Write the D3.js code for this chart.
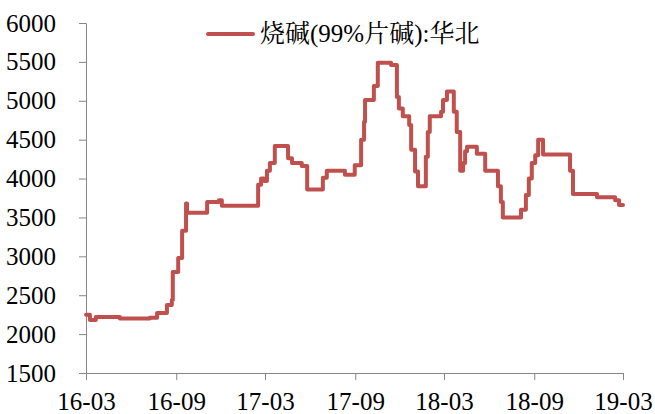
<!DOCTYPE html>
<html lang="zh">
<head>
<meta charset="utf-8">
<title>烧碱(99%片碱):华北</title>
<script src="https://d3js.org/d3.v7.min.js"></script>
<style>
	body { margin: 0; background: #fff; }
</style>
</head>
<body>
<div id="chart"></div>
<script>
	// series: date the price starts, price (yuan/t)
	var dates = ["2016-03-01","2016-03-09","2016-03-21","2016-05-09","2016-07-09","2016-07-24","2016-08-13","2016-08-23","2016-08-25","2016-09-05",
		"2016-09-13","2016-09-21","2016-09-23","2016-11-03","2016-11-27","2016-12-03","2017-02-15","2017-02-21","2017-02-27","2017-03-05",
		"2017-03-11","2017-03-21","2017-04-17","2017-04-25","2017-05-15","2017-05-26","2017-06-27","2017-07-05","2017-08-11","2017-08-31",
		"2017-09-13","2017-09-19","2017-09-21","2017-10-09","2017-10-17","2017-11-13","2017-11-25","2017-11-29","2017-12-07","2017-12-20",
		"2017-12-24","2018-01-01","2018-01-07","2018-01-23","2018-01-27","2018-01-31","2018-02-23","2018-02-27","2018-03-07","2018-03-21",
		"2018-03-27","2018-04-03","2018-04-09","2018-04-13","2018-04-17","2018-05-07","2018-05-24","2018-06-19","2018-06-25","2018-06-29",
		"2018-08-05","2018-08-15","2018-08-21","2018-08-27","2018-09-03","2018-09-09","2018-09-19","2018-11-13","2018-11-19","2019-01-07",
		"2019-02-13","2019-02-21","2019-03-01"];
	var prices = [2250,2180,2220,2200,2210,2270,2375,2440,2800,2980,
		3330,3680,3560,3700,3720,3650,3920,4000,3970,4100,
		4200,4420,4260,4200,4160,3860,4010,4100,4050,4170,
		4500,4730,5010,5190,5490,5460,5050,4900,4800,4690,
		4370,4090,3900,4280,4600,4800,4860,5010,5120,4860,
		4600,4100,4200,4350,4410,4320,4100,3900,3700,3500,
		3600,3790,4000,4200,4300,4500,4310,4100,3800,3760,
		3720,3660,3660];
	var xTicks = ["16-03","16-09","17-03","17-09","18-03","18-09","19-03"];
	var yTicks = [1500,2000,2500,3000,3500,4000,4500,5000,5500,6000];
	var seriesName = "烧碱(99%片碱):华北";

	var W = 655, H = 414;
	var margin = {top: 23, right: 32, bottom: 41, left: 86};

	var parseDay = d3.timeParse("%Y-%m-%d"),
		parseTick = d3.timeParse("%y-%m");

	var data = dates.map(function(d, i) { return {date: parseDay(d), value: prices[i]}; });

	var svg = d3.select("#chart").append("svg")
		.attr("width", W)
		.attr("height", H);

	var x = d3.scaleTime()
		.domain([parseTick(xTicks[0]), parseTick(xTicks[xTicks.length - 1])])
		.range([margin.left, W - margin.right]);
	var y = d3.scaleLinear()
		.domain([1500, 6000])
		.range([H - margin.bottom, margin.top]);

	var xAxis = d3.axisBottom(x)
		.tickValues(xTicks.map(parseTick))
		.tickFormat(d3.timeFormat("%y-%m"))
		.tickSizeOuter(0)
		.tickSize(7)
		.tickPadding(12);
	var yAxis = d3.axisLeft(y)
		.tickValues(yTicks)
		.tickFormat(d3.format("d"))
		.tickSizeOuter(0)
		.tickSize(7)
		.tickPadding(23);

	var gx = svg.append("g")
		.attr("transform", "translate(0," + y(1500) + ")")
		.call(xAxis);
	var gy = svg.append("g")
		.attr("transform", "translate(" + x.range()[0] + ",0)")
		.call(yAxis);

	[gx, gy].forEach(function(g) {
		g.select(".domain").attr("stroke", "#868686").attr("stroke-width", 1);
		g.selectAll(".tick line").attr("stroke", "#868686");
		g.selectAll(".tick text")
			.style("font-family", "'Liberation Serif'")
			.style("font-size", "25px")
			.attr("fill", "#000");
	});

	var line = d3.line()
		.curve(d3.curveStepAfter)
		.x(function(d) { return x(d.date); })
		.y(function(d) { return y(d.value); });

	svg.append("path")
		.datum(data)
		.attr("fill", "none")
		.attr("stroke", "#C0504D")
		.attr("stroke-width", 4)
		.attr("stroke-linejoin", "round")
		.attr("stroke-linecap", "round")
		.attr("d", line);

	// legend
	var legend = svg.append("g").attr("transform", "translate(208,34)");
	legend.append("line")
		.attr("x1", 0).attr("x2", 45)
		.attr("stroke", "#C0504D")
		.attr("stroke-width", 4)
		.attr("stroke-linecap", "round");
	legend.append("text")
		.attr("x", 52)
		.attr("y", 8)
		.style("font-family", "'Liberation Serif', 'Noto Serif CJK SC', 'Noto Sans CJK SC'")
		.style("font-size", "25px")
		.text(seriesName);
</script>
</body>
</html>
